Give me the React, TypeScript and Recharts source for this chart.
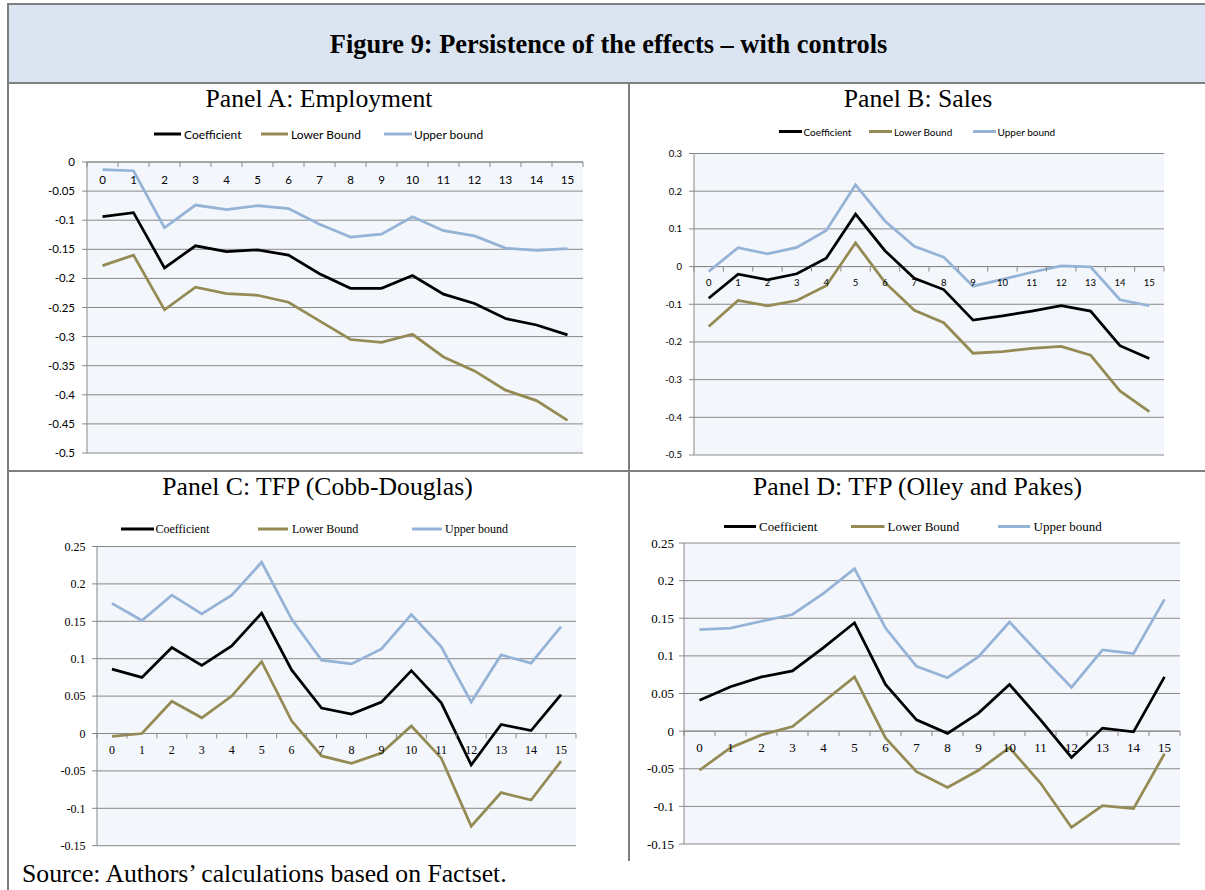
import React from 'react';
import { LineChart, Line, XAxis, YAxis, CartesianGrid, ReferenceLine, LabelList } from 'recharts';

// Event-time horizons (years after the shock)
const horizons = ['0', '1', '2', '3', '4', '5', '6', '7', '8', '9', '10', '11', '12', '13', '14', '15'];

const seriesNames = ['Coefficient', 'Lower Bound', 'Upper bound'];
const seriesColors = ['#000000', '#948a54', '#95b3d7'];

// Panel A: Employment
const coefA = [-0.094, -0.087, -0.182, -0.144, -0.154, -0.151, -0.16, -0.192, -0.217, -0.217, -0.195, -0.227, -0.243, -0.269, -0.28, -0.297];
const lowerA = [-0.178, -0.16, -0.254, -0.215, -0.226, -0.229, -0.241, -0.273, -0.305, -0.31, -0.296, -0.335, -0.359, -0.392, -0.41, -0.444];
const upperA = [-0.013, -0.015, -0.113, -0.074, -0.082, -0.075, -0.08, -0.107, -0.129, -0.124, -0.094, -0.118, -0.127, -0.148, -0.152, -0.149];
const ticksA = [0, -0.05, -0.1, -0.15, -0.2, -0.25, -0.3, -0.35, -0.4, -0.45, -0.5];

// Panel B: Sales
const coefB = [-0.084, -0.02, -0.035, -0.019, 0.022, 0.139, 0.042, -0.031, -0.061, -0.142, -0.131, -0.118, -0.104, -0.118, -0.21, -0.244];
const lowerB = [-0.159, -0.09, -0.104, -0.09, -0.051, 0.063, -0.042, -0.116, -0.149, -0.23, -0.226, -0.217, -0.212, -0.235, -0.33, -0.385];
const upperB = [-0.013, 0.05, 0.034, 0.051, 0.096, 0.217, 0.121, 0.054, 0.025, -0.052, -0.034, -0.015, 0.002, -0.001, -0.088, -0.104];
const ticksB = [0.3, 0.2, 0.1, 0, -0.1, -0.2, -0.3, -0.4, -0.5];

// Panel C: TFP (Cobb-Douglas)
const coefC = [0.086, 0.075, 0.115, 0.091, 0.117, 0.161, 0.085, 0.034, 0.026, 0.042, 0.084, 0.041, -0.042, 0.012, 0.004, 0.052];
const lowerC = [-0.004, 0.0, 0.043, 0.021, 0.05, 0.096, 0.017, -0.03, -0.04, -0.026, 0.01, -0.033, -0.124, -0.079, -0.089, -0.037];
const upperC = [0.174, 0.151, 0.185, 0.16, 0.185, 0.229, 0.153, 0.098, 0.093, 0.113, 0.159, 0.116, 0.042, 0.105, 0.094, 0.143];

// Panel D: TFP (Olley and Pakes)
const coefD = [0.041, 0.059, 0.072, 0.08, 0.111, 0.144, 0.062, 0.015, -0.003, 0.024, 0.062, 0.015, -0.035, 0.004, -0.001, 0.072];
const lowerD = [-0.052, -0.022, -0.005, 0.006, 0.039, 0.072, -0.009, -0.054, -0.075, -0.052, -0.022, -0.069, -0.128, -0.099, -0.103, -0.03];
const upperD = [0.135, 0.137, 0.146, 0.155, 0.183, 0.216, 0.137, 0.086, 0.071, 0.099, 0.145, 0.101, 0.058, 0.108, 0.103, 0.175];
const ticksCD = [0.25, 0.2, 0.15, 0.1, 0.05, 0, -0.05, -0.1, -0.15];

const SANS = "Lato, 'Liberation Sans', sans-serif";
const SERIF = "'Liberation Serif', 'DejaVu Serif', serif";
const GRID = '#888888';
const PLOT_BG = '#f3f6fb';
const FRAME = '#7f7f7f';

const fmt = (v: number) => String(Math.round(v * 100) / 100);

type PanelCfg = {
  left: number;
  top: number;
  width: number;
  height: number;
  margin: { top: number; right: number; bottom: number; left: number };
  yWidth: number;
  tickMargin: number;
  domain: [number, number];
  ticks: number[];
  font: string;
  fontSize: number;
  labelDy: number;
  coef: number[];
  lower: number[];
  upper: number[];
};

function Panel(p: PanelCfg) {
  const plotW = p.width - p.margin.left - p.margin.right - p.yWidth;
  const band = plotW / horizons.length;
  const rows = horizons.map((t, i) => ({
    t,
    axis: 0,
    coef: p.coef[i],
    lower: p.lower[i],
    upper: p.upper[i],
  }));

  // category labels and tick marks sitting on the zero line
  const axisLabel = (props: any) => {
    const x = props.x ?? props.viewBox?.x;
    const y = props.y ?? props.viewBox?.y;
    const idx = props.index as number;
    const label = props.value ?? horizons[idx];
    return (
      <g>
        <line x1={x - band / 2} x2={x - band / 2} y1={y} y2={y + 5} stroke={GRID} strokeWidth={1} />
        {idx === horizons.length - 1 && (
          <line x1={x + band / 2} x2={x + band / 2} y1={y} y2={y + 5} stroke={GRID} strokeWidth={1} />
        )}
        <text
          x={x}
          y={y + p.labelDy}
          textAnchor="middle"
          dominantBaseline="central"
          fontFamily={p.font}
          fontSize={p.fontSize}
          fill="#000"
        >
          {label}
        </text>
      </g>
    );
  };

  return (
    <div style={{ position: 'absolute', left: p.left, top: p.top }}>
      <LineChart width={p.width} height={p.height} data={rows} margin={p.margin}>
        <CartesianGrid vertical={false} stroke={GRID} fill={PLOT_BG} fillOpacity={1} />
        <XAxis dataKey="t" type="category" hide padding={{ left: band / 2, right: band / 2 }} />
        <YAxis
          type="number"
          domain={p.domain}
          ticks={p.ticks}
          interval={0}
          allowDataOverflow
          width={p.yWidth}
          tickSize={5}
          tickMargin={p.tickMargin}
          axisLine={{ stroke: GRID }}
          tickLine={{ stroke: GRID }}
          tick={{ fontFamily: p.font, fontSize: p.fontSize, fill: '#000' }}
          tickFormatter={fmt}
        />
        <ReferenceLine y={0} stroke={GRID} strokeWidth={1} />
        <Line
          dataKey="axis"
          stroke="none"
          dot={false}
          activeDot={false}
          legendType="none"
          isAnimationActive={false}
        >
          <LabelList dataKey="t" content={axisLabel} />
        </Line>
        <Line type="linear" dataKey="coef" stroke={seriesColors[0]} strokeWidth={2.75} dot={false} isAnimationActive={false} />
        <Line type="linear" dataKey="lower" stroke={seriesColors[1]} strokeWidth={2.75} dot={false} isAnimationActive={false} />
        <Line type="linear" dataKey="upper" stroke={seriesColors[2]} strokeWidth={2.75} dot={false} isAnimationActive={false} />
      </LineChart>
    </div>
  );
}

type LegendCfg = { y: number; font: string; fontSize: number; items: [number, number, number][] };

function LegendRow({ y, font, fontSize, items }: LegendCfg) {
  return (
    <g>
      {items.map(([x1, x2, tx], i) => (
        <g key={seriesNames[i]}>
          <line x1={x1} x2={x2} y1={y} y2={y} stroke={seriesColors[i]} strokeWidth={3} />
          <text x={tx} y={y} dominantBaseline="central" fontFamily={font} fontSize={fontSize} fill="#000">
            {seriesNames[i]}
          </text>
        </g>
      ))}
    </g>
  );
}

const legends: LegendCfg[] = [
  { y: 134, font: SANS, fontSize: 12, items: [[154, 181, 184], [261, 288, 291], [384, 412, 414]] },
  { y: 131.5, font: SANS, fontSize: 10, items: [[779, 802, 803.5], [869, 892, 894], [973, 996, 997.5]] },
  { y: 529, font: SERIF, fontSize: 12, items: [[121, 154, 155.5], [258, 288, 292], [412, 442, 445]] },
  { y: 526.5, font: SERIF, fontSize: 13, items: [[724, 756, 759], [851, 884.5, 887.5], [998, 1030, 1033.5]] },
];

const panelTitles = [
  { text: 'Panel A: Employment', x: 319, y: 107 },
  { text: 'Panel B: Sales', x: 918, y: 107 },
  { text: 'Panel C: TFP (Cobb-Douglas)', x: 317.5, y: 494.5 },
  { text: 'Panel D: TFP (Olley and Pakes)', x: 917.5, y: 494.5 },
];

export default function App() {
  return (
    <div
      style={{
        position: 'absolute',
        left: 0,
        top: 0,
        width: 1205,
        height: 890,
        background: '#ffffff',
        overflow: 'hidden',
      }}
    >
      <svg width={1205} height={890} style={{ position: 'absolute', left: 0, top: 0 }}>
        {/* header band */}
        <rect x={8} y={4} width={1200} height={79} fill="#dbe5f1" />
        <line x1={7} x2={1205} y1={4} y2={4} stroke={FRAME} strokeWidth={2} />
        <line x1={7} x2={1205} y1={83} y2={83} stroke={FRAME} strokeWidth={2} />
        <line x1={8} x2={8} y1={3} y2={890} stroke={FRAME} strokeWidth={2} />
        <line x1={7} x2={1205} y1={471} y2={471} stroke={FRAME} strokeWidth={2} />
        <line x1={629} x2={629} y1={83} y2={861} stroke={FRAME} strokeWidth={2} />
        <text x={608.5} y={53} textAnchor="middle" fontFamily={SERIF} fontWeight="bold" fontSize={26.4} fill="#000">
          Figure 9: Persistence of the effects – with controls
        </text>
        {panelTitles.map((t) => (
          <text key={t.text} x={t.x} y={t.y} textAnchor="middle" fontFamily={SERIF} fontSize={25.7} fill="#000">
            {t.text}
          </text>
        ))}
        {legends.map((l, i) => (
          <LegendRow key={i} {...l} />
        ))}
        <text x={22} y={882} fontFamily={SERIF} fontSize={25.7} fill="#000">
          Source: Authors’ calculations based on Factset.
        </text>
      </svg>

      <Panel
        left={8}
        top={150}
        width={600}
        height={320}
        margin={{ top: 12, right: 25, bottom: 17, left: 0 }}
        yWidth={79}
        tickMargin={7}
        domain={[-0.5, 0]}
        ticks={ticksA}
        font={SANS}
        fontSize={11.5}
        labelDy={17}
        coef={coefA}
        lower={lowerA}
        upper={upperA}
      />
      <Panel
        left={630}
        top={140}
        width={560}
        height={330}
        margin={{ top: 13.5, right: 26, bottom: 15, left: 0 }}
        yWidth={64}
        tickMargin={7}
        domain={[-0.5, 0.3]}
        ticks={ticksB}
        font={SANS}
        fontSize={9.5}
        labelDy={16}
        coef={coefB}
        lower={lowerB}
        upper={upperB}
      />
      <Panel
        left={9}
        top={535}
        width={590}
        height={320}
        margin={{ top: 11.5, right: 23, bottom: 9.3, left: 0 }}
        yWidth={88}
        tickMargin={6.5}
        domain={[-0.15, 0.25]}
        ticks={ticksCD}
        font={SERIF}
        fontSize={12}
        labelDy={16}
        coef={coefC}
        lower={lowerC}
        upper={upperC}
      />
      <Panel
        left={631}
        top={535}
        width={570}
        height={320}
        margin={{ top: 8, right: 21, bottom: 11, left: 0 }}
        yWidth={53}
        tickMargin={5}
        domain={[-0.15, 0.25]}
        ticks={ticksCD}
        font={SERIF}
        fontSize={13}
        labelDy={16}
        coef={coefD}
        lower={lowerD}
        upper={upperD}
      />
    </div>
  );
}
